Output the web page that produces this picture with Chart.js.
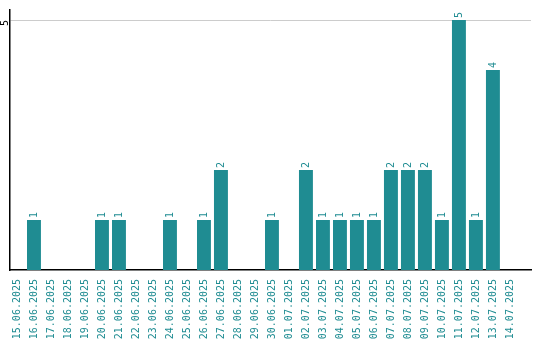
<!DOCTYPE html>
<html>
<head>
<meta charset="utf-8">
<script src="https://cdn.jsdelivr.net/npm/chart.js@4"></script>
<style>
  html, body { margin: 0; padding: 0; background: #fff; }
  #wrap { width: 540px; height: 340px; }
</style>
</head>
<body>
<div id="wrap"><canvas id="c"></canvas></div>
<script>
const days = ['15.06.2025', '16.06.2025', '17.06.2025', '18.06.2025', '19.06.2025', '20.06.2025',
  '21.06.2025', '22.06.2025', '23.06.2025', '24.06.2025', '25.06.2025', '26.06.2025', '27.06.2025',
  '28.06.2025', '29.06.2025', '30.06.2025', '01.07.2025', '02.07.2025', '03.07.2025', '04.07.2025',
  '05.07.2025', '06.07.2025', '07.07.2025', '08.07.2025', '09.07.2025', '10.07.2025', '11.07.2025',
  '12.07.2025', '13.07.2025', '14.07.2025'];
const counts = [0, 1, 0, 0, 0, 1, 1, 0, 0, 1, 0, 1, 2, 0, 0, 1, 0, 2, 1, 1, 1, 1, 2, 2, 2, 1, 5, 1, 4, 0];
const yTicks = [5];

const teal = '#1f8c92';
const mono = '"DejaVu Sans Mono", monospace';

// rotated value labels above bars + rotated y tick labels
const rotatedText = {
  id: 'rotatedText',
  afterDatasetsDraw(chart) {
    const ctx = chart.ctx;
    const meta = chart.getDatasetMeta(0);
    ctx.save();
    ctx.font = '10px ' + mono;
    ctx.fillStyle = teal;
    ctx.textAlign = 'left';
    ctx.textBaseline = 'middle';
    meta.data.forEach((bar, i) => {
      if (!counts[i]) return;
      ctx.save();
      ctx.translate(bar.x, bar.y - 2);
      ctx.rotate(-Math.PI / 2);
      ctx.fillText(String(counts[i]), 0, 0);
      ctx.restore();
    });
    const y = chart.scales.y;
    ctx.fillStyle = '#000';
    ctx.textAlign = 'right';
    yTicks.forEach(t => {
      ctx.save();
      ctx.translate(y.right - 5, y.getPixelForValue(t));
      ctx.rotate(-Math.PI / 2);
      ctx.fillText(String(t), 0, 0);
      ctx.restore();
    });
    ctx.restore();
  }
};

new Chart(document.getElementById('c'), {
  type: 'bar',
  data: {
    datasets: [{
      data: counts.map((v, i) => ({ x: i, y: v })),
      backgroundColor: teal,
      barPercentage: 0.82,
      categoryPercentage: 1
    }]
  },
  options: {
    responsive: true,
    maintainAspectRatio: false,
    animation: false,
    layout: { padding: { top: 10, right: 9, bottom: 0, left: 0 } },
    plugins: { legend: { display: false }, tooltip: { enabled: false } },
    scales: {
      x: {
        type: 'linear',
        min: -0.41,
        max: 30.24,
        offset: false,
        afterBuildTicks(axis) { axis.ticks = days.map((d, i) => ({ value: i })); },
        afterFit(axis) { axis.height = 70; },
        grid: { display: false },
        border: { color: '#000', width: 1.5 },
        ticks: {
          color: teal,
          font: { family: mono, size: 10 },
          callback: (v) => days[v],
          maxRotation: 90,
          minRotation: 90,
          autoSkip: false,
          padding: 1
        }
      },
      y: {
        min: 0,
        max: 5.2,
        afterBuildTicks(axis) { axis.ticks = yTicks.map(v => ({ value: v })); },
        afterFit(axis) { axis.width = 10; },
        grid: { color: '#cccccc', drawTicks: false },
        border: { color: '#000', width: 1.5 },
        ticks: { display: false }
      }
    }
  },
  plugins: [rotatedText]
});
</script>
</body>
</html>
